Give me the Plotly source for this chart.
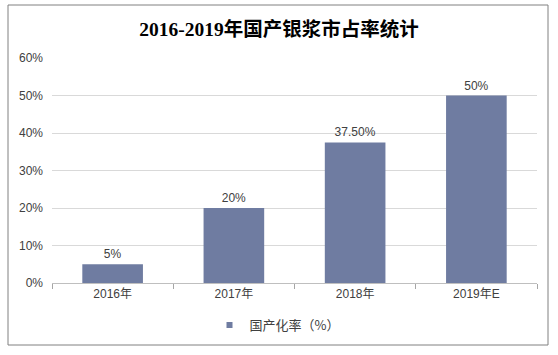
import plotly.graph_objects as go

categories = ["2016年", "2017年", "2018年", "2019年E"]
values = [5, 20, 37.5, 50]
value_labels = ["5%", "20%", "37.50%", "50%"]
series_name = "国产化率（%）"
title_text = "2016-2019年国产银浆市占率统计"
y_ticks = [0, 10, 20, 30, 40, 50, 60]
y_tick_labels = ["0%", "10%", "20%", "30%", "40%", "50%", "60%"]

BAR_COLOR = "#6F7CA1"
W, H = 558, 355
L, R, T, B = 52, 21, 58, 72
pw, ph = W - L - R, H - T - B

def px_x(x):
    return (x - L) / pw

def px_y(y):
    return (H - B - y) / ph

fig = go.Figure()
fig.add_trace(go.Bar(
    x=categories, y=values, name=series_name,
    marker=dict(color=BAR_COLOR, line=dict(width=0)),
    text=value_labels, textposition="outside", cliponaxis=False,
    textfont=dict(family="Liberation Sans, Arial, sans-serif", size=12, color="#404040"),
    showlegend=False,
))
# legend entry with small square swatch
fig.add_trace(go.Scatter(
    x=[None], y=[None], mode="markers", name=series_name,
    marker=dict(symbol="square", size=6, color=BAR_COLOR),
    showlegend=True, hoverinfo="skip",
))

fig.update_layout(
    width=W, height=H,
    margin=dict(l=L, r=R, t=T, b=B, autoexpand=False),
    paper_bgcolor="white", plot_bgcolor="white",
    bargap=0.5,
    title=dict(text="<b>" + title_text + "</b>", x=0.5, xanchor="center",
               y=1 - 29 / H, yanchor="middle",
               font=dict(family="Liberation Serif, Noto Sans CJK SC, serif", size=19.5, color="#000000")),
    font=dict(family="Liberation Sans, Noto Sans CJK SC, sans-serif", size=12, color="#404040"),
    showlegend=True,
    legend=dict(orientation="h", x=px_x(277), xanchor="center", y=px_y(325), yanchor="middle",
                font=dict(family="Noto Sans CJK SC, sans-serif", size=13, color="#404040"),
                itemwidth=30, bgcolor="rgba(0,0,0,0)"),
    xaxis=dict(showline=True, linecolor="#BFBFBF", linewidth=1,
               ticks="outside", tickson="boundaries", ticklen=5, tickcolor="#A6A6A6",
               showgrid=False, automargin=False, fixedrange=True,
               tickfont=dict(family="Liberation Sans, Noto Sans CJK SC, sans-serif", size=12, color="#404040")),
    yaxis=dict(range=[0, 60], tickmode="array", tickvals=y_ticks, ticktext=y_tick_labels,
               showgrid=True, gridcolor="#D9D9D9", gridwidth=1, zeroline=False,
               showline=False, ticks="", ticklabelstandoff=8, automargin=False, fixedrange=True,
               tickfont=dict(family="Liberation Sans, sans-serif", size=12, color="#404040")),
    shapes=[dict(type="rect", xref="paper", yref="paper",
                 x0=px_x(8), x1=px_x(548), y0=px_y(345), y1=px_y(5),
                 line=dict(color="#808080", width=1), fillcolor="rgba(0,0,0,0)", layer="below")],
)

fig.write_html("out.html", config={"displayModeBar": False},
               post_script="document.body.style.margin='0';")
